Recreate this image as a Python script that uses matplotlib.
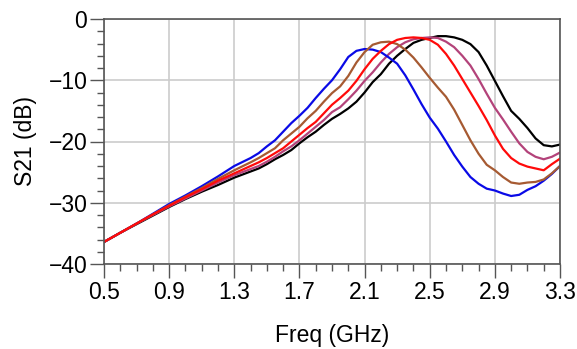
import matplotlib.pyplot as plt
from matplotlib.ticker import MultipleLocator

plt.rcParams['font.family'] = ['Liberation Sans', 'DejaVu Sans']

freq = [0.5, 0.6, 0.7, 0.8, 0.9, 1.0, 1.1, 1.2, 1.3, 1.4,
        1.45, 1.5, 1.55, 1.6, 1.65, 1.7, 1.75, 1.8, 1.85, 1.9,
        1.95, 2.0, 2.05, 2.1, 2.15, 2.2, 2.25, 2.3, 2.35, 2.4,
        2.45, 2.5, 2.55, 2.6, 2.65, 2.7, 2.75, 2.8, 2.85, 2.9,
        2.95, 3.0, 3.05, 3.1, 3.15, 3.2, 3.25, 3.3]

s21_blue = [-36.4, -34.9, -33.4, -31.8, -30.2, -28.8, -27.3, -25.7, -24.0, -22.7,
            -21.9, -20.8, -19.8, -18.4, -17.0, -15.8, -14.5, -12.9, -11.4, -10.0,
            -8.2, -6.2, -5.2, -4.9, -5.0, -5.4, -6.3, -7.3, -9.2, -11.5,
            -13.9, -16.1, -17.9, -20.0, -22.2, -24.1, -25.8, -26.9, -27.7, -28.0,
            -28.5, -28.9, -28.7, -27.9, -27.3, -26.4, -25.3, -24.0]
s21_brown = [-36.4, -34.9, -33.4, -31.9, -30.4, -29.0, -27.6, -26.1, -24.7, -23.4,
             -22.7, -21.9, -21.1, -19.8, -18.7, -17.6, -16.2, -15.0, -13.5, -12.1,
             -11.0, -9.3, -7.1, -5.4, -4.2, -3.8, -3.7, -4.1, -5.0, -6.3,
             -7.9, -9.6, -11.2, -12.7, -14.8, -17.3, -19.8, -22.0, -23.8, -24.7,
             -25.8, -26.7, -26.9, -26.7, -26.6, -26.2, -25.2, -24.0]
s21_red = [-36.4, -34.9, -33.4, -31.9, -30.5, -29.1, -27.8, -26.4, -25.2, -24.0,
           -23.4, -22.7, -21.9, -21.1, -20.0, -18.9, -17.8, -16.8, -15.4, -14.0,
           -12.9, -11.7, -10.1, -8.2, -6.5, -5.2, -4.1, -3.4, -3.1, -3.0,
           -3.1, -3.4, -4.2, -5.7, -7.6, -9.8, -12.0, -14.2, -16.5, -19.0,
           -21.2, -22.7, -23.6, -24.1, -24.4, -24.7, -23.7, -22.8]
s21_mauve = [-36.4, -34.9, -33.4, -32.0, -30.6, -29.3, -28.0, -26.7, -25.5, -24.5,
             -24.0, -23.3, -22.5, -21.6, -20.8, -19.8, -18.7, -17.6, -16.5, -15.2,
             -14.4, -13.1, -11.7, -10.1, -8.7, -7.1, -5.7, -4.6, -3.8, -3.3,
             -3.1, -3.0, -3.1, -3.7, -4.6, -6.0, -7.6, -9.8, -12.2, -14.5,
             -16.4, -18.4, -20.3, -21.7, -22.5, -22.9, -22.5, -21.8]
s21_black = [-36.4, -34.9, -33.5, -32.1, -30.7, -29.4, -28.2, -27.1, -25.9, -24.9,
             -24.4, -23.7, -22.9, -22.2, -21.4, -20.3, -19.3, -18.4, -17.3, -16.3,
             -15.5, -14.6, -13.5, -12.0, -10.3, -9.0, -7.3, -6.0, -4.9, -3.9,
             -3.4, -3.1, -2.8, -2.8, -3.0, -3.4, -4.1, -5.4, -7.6, -10.1,
             -12.6, -15.0, -16.3, -17.8, -19.5, -20.6, -20.8, -20.5]

xtick_labels = ['0.5', '0.9', '1.3', '1.7', '2.1', '2.5', '2.9', '3.3']
xtick_vals = [float(t) for t in xtick_labels]
ytick_vals = [-40, -30, -20, -10, 0]

fig = plt.figure(figsize=(5.77, 3.49), dpi=100)
ax = fig.add_axes([104/577, 1-264/349, 456/577, 245/349])

ax.plot(freq, s21_black, color='black', lw=1.6)
ax.plot(freq, s21_mauve, color='#B3437A', lw=1.6)
ax.plot(freq, s21_blue, color='#0A0AE6', lw=1.6)
ax.plot(freq, s21_brown, color='#A65A32', lw=1.6)
ax.plot(freq, s21_red, color='#FF0A0A', lw=1.6)

ax.set_xlim(0.5, 3.3)
ax.set_ylim(-40, 0)
ax.set_xticks(xtick_vals)
ax.set_xticklabels(xtick_labels)
ax.set_yticks(ytick_vals)
ax.xaxis.set_minor_locator(MultipleLocator(0.1))
ax.yaxis.set_minor_locator(MultipleLocator(2))

ax.grid(True, which='major', color='#cccccc', lw=1.2)
ax.set_axisbelow(True)
for sp in ax.spines.values():
    sp.set_color('#555555')
    sp.set_linewidth(1.2)

ax.tick_params(which='major', length=10, width=1, color='#555555', labelsize=16.5, pad=2)
ax.tick_params(which='minor', length=5, width=1, color='#555555')

ax.set_xlabel('Freq (GHz)', fontsize=16.5)
ax.set_ylabel('S21 (dB)', fontsize=16.5)
ax.xaxis.set_label_coords(0.5, -0.245)
ax.yaxis.set_label_coords(-0.148, 0.5)

plt.savefig('out.png', dpi=100)
